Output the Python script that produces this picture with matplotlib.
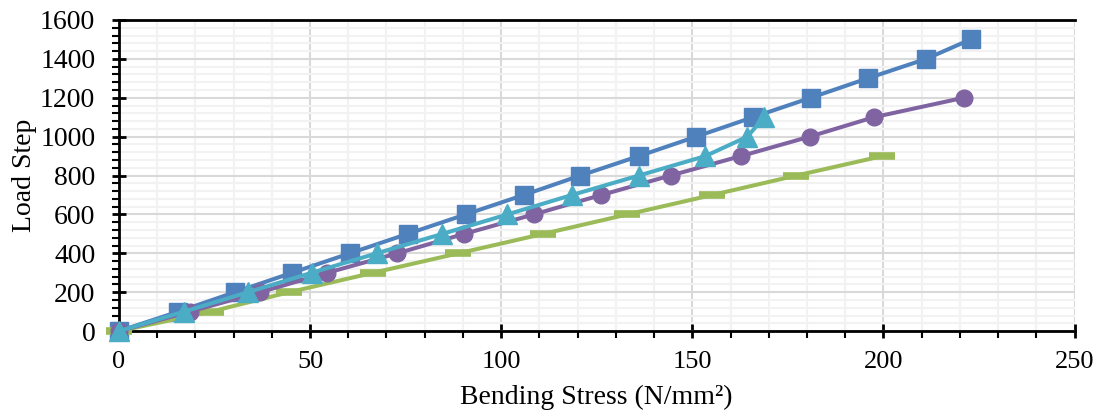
import matplotlib.pyplot as plt
from matplotlib.ticker import MultipleLocator

# 字体
plt.rcParams['font.family'] = ['Liberation Serif', 'DejaVu Serif']

# 数据
load_blue = [0, 100, 200, 300, 400, 500, 600, 700, 800, 900, 1000, 1100, 1200, 1300, 1400, 1500]
stress_blue = [0, 15.5, 30.3, 45.3, 60.4, 75.5, 90.7, 105.9, 120.7, 136, 151, 165.9, 181, 195.9, 211.2, 222.8]

load_purple = [0, 100, 200, 300, 400, 500, 600, 700, 800, 900, 1000, 1100, 1200]
stress_purple = [0, 18.5, 36.9, 54.5, 72.8, 90.3, 108.5, 126.2, 144.3, 162.7, 180.7, 197.5, 221]

load_teal = [0, 100, 200, 300, 400, 500, 600, 700, 800, 900, 1000, 1100]
stress_teal = [0, 17, 33.7, 50.4, 67.4, 84.6, 101.6, 118.5, 136, 153.4, 164.4, 168.8]

load_green = [0, 100, 200, 300, 400, 500, 600, 700, 800, 900]
stress_green = [0, 24, 44.5, 66.5, 88.8, 111, 133, 155.2, 177.2, 199.7]

# 颜色
c_blue = '#4F81BD'
c_purple = '#8064A2'
c_teal = '#4BACC6'
c_green = '#9BBB59'

fig = plt.figure(figsize=(11.01, 4.16), dpi=100)
ax = fig.add_axes([0.108, 0.204, 0.868, 0.748])

ax.plot(stress_blue, load_blue, color=c_blue, lw=2.9, marker='s', ms=13,
        mec=c_blue, zorder=3, clip_on=False)
ax.plot(stress_green, load_green, color=c_green, lw=2.9, marker='_', ms=19,
        mec=c_green, mew=5.5, zorder=3, clip_on=False)
ax.plot(stress_purple, load_purple, color=c_purple, lw=2.9, marker='o', ms=12,
        mec=c_purple, zorder=4, clip_on=False)
ax.plot(stress_teal, load_teal, color=c_teal, lw=2.9, marker='^', ms=14,
        mec=c_teal, zorder=5, clip_on=False)

# 坐标轴
ax.set_xlim(0, 250)
ax.set_ylim(0, 1600)
ax.xaxis.set_major_locator(MultipleLocator(50))
ax.xaxis.set_minor_locator(MultipleLocator(10))
ax.yaxis.set_major_locator(MultipleLocator(200))
ax.yaxis.set_minor_locator(MultipleLocator(40))

# 网格线
ax.grid(which='major', color='#d9d9d9', lw=1.5, zorder=0)
ax.grid(which='minor', color='#f2f2f2', lw=1.5, zorder=0)
ax.set_axisbelow(True)

ax.tick_params(which='major', direction='inout', length=10, width=2, labelsize=20,
               color='black')
ax.tick_params(which='minor', direction='out', length=5, width=1.5, color='black')
ax.tick_params(axis='x', pad=9, labelsize=19)
ax.tick_params(axis='y', pad=12)

for s in ['left', 'bottom', 'top']:
    ax.spines[s].set_linewidth(2)
    ax.spines[s].set_color('black')
ax.spines['right'].set_visible(False)

ax.set_xlabel('Bending Stress (N/mm²)', fontsize=20, labelpad=9)
ax.set_ylabel('Load Step', fontsize=20, labelpad=2)

plt.savefig('out.png', dpi=100)
